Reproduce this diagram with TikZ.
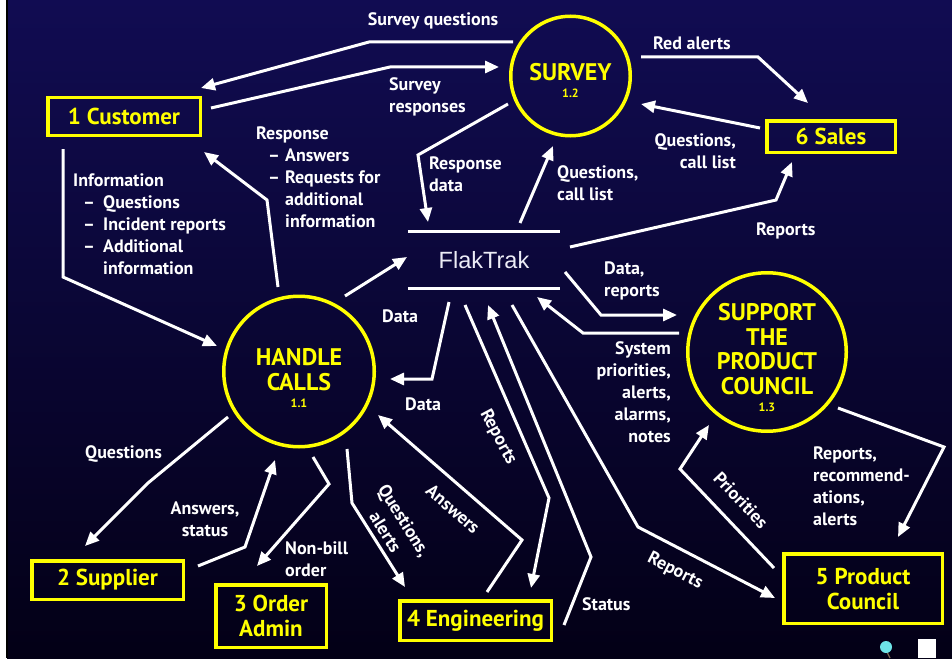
\documentclass[tikz,border=0pt]{standalone}
\usepackage{fontspec}
\setmainfont{PT Sans}
\newfontfamily\storefont{Liberation Sans}
\usetikzlibrary{arrows.meta}
\definecolor{bgtop}{RGB}{17,12,82}
\definecolor{bgmid}{RGB}{14,4,62}
\definecolor{bgbot}{RGB}{3,0,22}
\definecolor{dfdyellow}{RGB}{255,255,0}
\definecolor{storetext}{RGB}{236,236,246}
\definecolor{navdot}{RGB}{110,228,232}
\definecolor{navstem}{RGB}{120,100,80}
\newcommand\dfdbullet[2]{\hspace*{#1}\makebox[#2][l]{–}}

\begin{document}
\begin{tikzpicture}[x=1pt,y=-1pt,
  entity/.style={draw=dfdyellow,line width=3.5pt,text=dfdyellow,
    font=\fontsize{23}{25}\selectfont\bfseries,align=center,inner sep=0pt},
  process/.style={circle,draw=dfdyellow,line width=3.5pt,inner sep=0pt},
  ptitle/.style={text=dfdyellow,font=\fontsize{24}{24.5}\selectfont\bfseries,
    align=center,inner sep=0pt},
  pnum/.style={text=dfdyellow,font=\fontsize{12}{14}\selectfont\bfseries,inner sep=0pt},
  flow/.style={draw=white,line width=3pt,-{Triangle[length=14pt,width=12pt]}},
  lbl/.style={text=white,font=\fontsize{18}{22}\selectfont\bfseries,inner sep=0pt},
  storeline/.style={draw=white,line width=3pt},
]
\useasboundingbox (0,0) rectangle (952,658);

% slide background and left edge
\shade[top color=bgtop,middle color=bgmid,bottom color=bgbot] (7,0) rectangle (952,658);
\fill[white] (0,0) rectangle (6,658);
\fill[black] (6,0) rectangle (7.5,658);

% external entities
\node[entity,minimum width=152.5pt,minimum height=37.5pt] (cust) at (124,116.5) {1 Customer};
\node[entity,minimum width=128.5pt,minimum height=31.5pt] (sales) at (831,136.5) {6 Sales};
\node[entity,minimum width=151.5pt,minimum height=38.5pt] (supp) at (107.5,580) {2 Supplier};
\node[entity,minimum width=110.5pt,minimum height=62.5pt] (order) at (271,616) {3 Order\\Admin};
\node[entity,minimum width=151.5pt,minimum height=39.5pt] (eng) at (475.5,620.5) {4 Engineering};
\node[entity,minimum width=158.5pt,minimum height=69.5pt] (council) at (863,588.5) {5 Product\\Council};

% processes (base anchor of a multi-line title sits on its last line)
\node[process,minimum size=119.5pt] (survey) at (570.5,76) {};
\node[ptitle,anchor=base] at (570.5,81) {SURVEY};
\node[pnum,anchor=base] at (570.5,98) {1.2};

\node[process,minimum size=150.5pt] (handle) at (299,371.5) {};
\node[ptitle,anchor=base] at (299,390) {HANDLE\\CALLS};
\node[pnum,anchor=base] at (299,407) {1.1};

\node[process,minimum size=158.5pt] (support) at (767,352) {};
\node[ptitle,anchor=base] at (767,394) {SUPPORT\\THE\\PRODUCT\\COUNCIL};
\node[pnum,anchor=base] at (767,411) {1.3};

% data store
\node[minimum width=152pt,minimum height=56pt,inner sep=0pt,text=storetext,
  font=\storefont\fontsize{23.5}{26}\selectfont] (flak) at (484,260) {FlakTrak};
\draw[storeline] (flak.north west) -- (flak.north east);
\draw[storeline] (flak.south west) -- (flak.south east);

% flows around SURVEY
\draw[flow] ([shift={(-57.5,-34)}]survey.center) -- (369,42) -- ([shift={(77,-28.5)}]cust.center);
\draw[flow] ([shift={(87,-8.5)}]cust.center) -- (390,67) -- ([shift={(-71.5,-9)}]survey.center);
\draw[flow] ([shift={(70.5,-19)}]survey.center) -- (758,57) -- ([shift={(-23,-33.5)}]sales.center);
\draw[flow] ([shift={(-71,-8.5)}]sales.center) -- ([shift={(70.5,28)}]survey.center);
\draw[flow] ([shift={(-62.5,28)}]survey.center) -- (418,155) -- ([shift={(-56,-38)}]flak.center);
\draw[flow] ([shift={(36,-37)}]flak.center) -- ([shift={(-17.5,70)}]survey.center);
\draw[flow] ([shift={(86,-13)}]flak.center) -- (776,200) -- ([shift={(-39,25.5)}]sales.center);

% flows between FlakTrak and SUPPORT THE PRODUCT COUNCIL
\draw[flow] ([shift={(81,12)}]flak.center) -- (601,315) -- ([shift={(-90,-37)}]support.center);
\draw[flow] ([shift={(-88,-19)}]support.center) -- (583,333) -- ([shift={(53,37)}]flak.center);

% flows between FlakTrak and HANDLE CALLS
\draw[flow] ([shift={(46,-75.5)}]handle.center) -- ([shift={(-77,-3)}]flak.center);
\draw[flow] ([shift={(-35,42)}]flak.center) -- (432,379) -- ([shift={(91,7.5)}]handle.center);

% flows below FlakTrak
\draw[flow] ([shift={(-19,45)}]flak.center) -- (549,498) -- ([shift={(55.5,-32.5)}]eng.center);
\draw[flow] ([shift={(88.5,4.5)}]eng.center) -- (591,557) -- ([shift={(4,45)}]flak.center);
\draw[flow] ([shift={(28,45)}]flak.center) -- (638,527) -- ([shift={(-88,9.5)}]council.center);

% flows around HANDLE CALLS
\draw[flow] ([shift={(11.5,-28.5)}]eng.center) -- (522,540) -- ([shift={(79,43.5)}]handle.center);
\draw[flow] ([shift={(48,77.5)}]handle.center) -- (352,503) -- ([shift={(-70.5,-33.5)}]eng.center);
\draw[flow] ([shift={(14,85.5)}]handle.center) -- (329,484) -- ([shift={(-14,-50)}]order.center);
\draw[flow] ([shift={(90.5,-14)}]supp.center) -- (245,547) -- ([shift={(-24,88.5)}]handle.center);
\draw[flow] ([shift={(-71,45.5)}]handle.center) -- (148,483) -- ([shift={(-22.5,-34)}]supp.center);
\draw[flow] ([shift={(-61,32.5)}]cust.center) -- (63,277) -- ([shift={(-82,-25.5)}]handle.center);
\draw[flow] ([shift={(-21,-84.5)}]handle.center) -- (267,200) -- ([shift={(80,35.5)}]cust.center);

% flows with the Product Council
\draw[flow] ([shift={(-89,-20.5)}]council.center) -- (680,469) -- ([shift={(-58,73)}]support.center);
\draw[flow] ([shift={(71,56)}]support.center) -- (944,447) -- ([shift={(35,-51.5)}]council.center);

% flow labels (base anchors of multi-line labels sit on the last line)
\node[lbl,anchor=base] at (433,26) {Survey questions};
\node[lbl,anchor=base west,align=left] at (389,113) {Survey\\responses};
\node[lbl,anchor=base west] at (653,50) {Red alerts};
\node[lbl,anchor=base east,align=right] at (736,168) {Questions,\\call list};
\node[lbl,anchor=base west,align=left] at (429,191) {Response\\data};
\node[lbl,anchor=base west,align=left] at (557,200) {Questions,\\call list};
\node[lbl,anchor=base west] at (756,235) {Reports};
\node[lbl,anchor=base west,align=left] at (604,296) {Data,\\reports};
\node[lbl,anchor=base east,align=right] at (671,442) {System\\priorities,\\alerts,\\alarms,\\notes};
\node[lbl,anchor=base west] at (382,322) {Data};
\node[lbl,anchor=base west] at (405,410) {Data};
\node[lbl,rotate=-62] at (498,437) {Reports};
\node[lbl,anchor=base west] at (582,610) {Status};
\node[lbl,rotate=-27] at (675,571) {Reports};
\node[lbl,rotate=-41] at (453,509) {Answers};
\node[lbl,rotate=-58,align=center] at (395,526) {Questions,\\alerts};
\node[lbl,anchor=base west,align=left] at (285,576) {Non-bill\\order};
\node[lbl,anchor=base,align=center] at (205,536) {Answers,\\status};
\node[lbl,anchor=base west] at (85,458) {Questions};
\node[lbl,anchor=base west,align=left] at (73,274)
  {Information\\\dfdbullet{10pt}{20pt}Questions\\\dfdbullet{10pt}{20pt}Incident reports\\
   \dfdbullet{10pt}{20pt}Additional\\\hspace*{30pt}information};
\node[lbl,anchor=base west,align=left] at (256,227)
  {Response\\\dfdbullet{12pt}{17pt}Answers\\\dfdbullet{12pt}{17pt}Requests for\\
   \hspace*{29pt}additional\\\hspace*{29pt}information};
\node[lbl,rotate=-46.5] at (741,500) {Priorities};
\node[lbl,anchor=base west,align=left] at (813,525) {Reports,\\recommend-\\ations,\\alerts};

% slide navigation marks
\draw[navstem,line width=1.2pt] (887,652) -- (890,658);
\fill[navdot] (886,647) circle (6);
\fill[white] (918,639) rectangle (936,658);
\end{tikzpicture}
\end{document}
